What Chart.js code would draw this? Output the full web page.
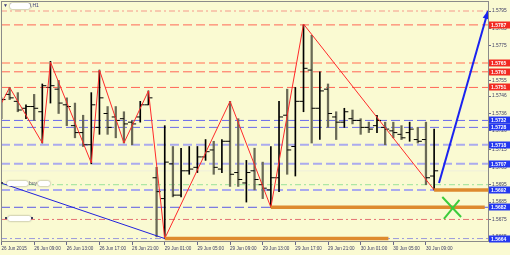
<!DOCTYPE html>
<html>
<head>
<meta charset="utf-8">
<script src="https://cdn.jsdelivr.net/npm/chart.js@4.4.0/dist/chart.umd.min.js"></script>
<style>
  html, body { margin: 0; padding: 0; background: #fafad2; }
  #wrap { width: 510px; height: 255px; }
</style>
</head>
<body>
<div id="wrap"><canvas id="chart" width="510" height="255"></canvas></div>
<script>
// GBPUSD H1 bars, 26 Jun 05:00 .. 30 Jun 10:00
const barOpen = [1.5738, 1.5747, 1.5743, 1.5739, 1.5740, 1.5737, 1.5751, 1.5750, 1.5741, 1.5729,
  1.5725, 1.5718, 1.5728, 1.5736, 1.5734, 1.5733, 1.5731, 1.5734, 1.5741, 1.5699,
  1.5687, 1.5707, 1.5689, 1.5703, 1.5705, 1.5711, 1.5715, 1.5704, 1.5720, 1.5702,
  1.5696, 1.5703, 1.5695, 1.5692, 1.5699, 1.5735, 1.5717, 1.5743, 1.5761, 1.5739,
  1.5750, 1.5734, 1.5731, 1.5733, 1.5732, 1.5728, 1.5729, 1.5728, 1.5726, 1.5724,
  1.5725, 1.5721, 1.5721, 1.5700];
const barHigh = [1.5745, 1.5751, 1.5748, 1.5741, 1.5747, 1.5753, 1.5766, 1.5755, 1.5745, 1.5742,
  1.5735, 1.5748, 1.5761, 1.5740, 1.5740, 1.5737, 1.5732, 1.5743, 1.5749, 1.5705,
  1.5729, 1.5717, 1.5716, 1.5717, 1.5717, 1.5721, 1.5720, 1.5721, 1.5743, 1.5733,
  1.5709, 1.5716, 1.5708, 1.5717, 1.5743, 1.5750, 1.5751, 1.5787, 1.5781, 1.5760,
  1.5753, 1.5737, 1.5739, 1.5738, 1.5733, 1.5731, 1.5735, 1.5731, 1.5731, 1.5729,
  1.5731, 1.5728, 1.5731, 1.5727];
const barLow = [1.5733, 1.5744, 1.5737, 1.5733, 1.5732, 1.5719, 1.5742, 1.5736, 1.5729, 1.5722,
  1.5717, 1.5707, 1.5724, 1.5724, 1.5722, 1.5719, 1.5718, 1.5731, 1.5741, 1.5665,
  1.5664, 1.5688, 1.5688, 1.5701, 1.5702, 1.5709, 1.5701, 1.5702, 1.5694, 1.5694,
  1.5685, 1.5692, 1.5687, 1.5682, 1.5691, 1.5701, 1.5700, 1.5737, 1.5719, 1.5721,
  1.5728, 1.5721, 1.5728, 1.5730, 1.5724, 1.5725, 1.5725, 1.5718, 1.5722, 1.5721,
  1.5720, 1.5719, 1.5695, 1.5692];
const barClose = [1.5744, 1.5745, 1.5738, 1.5740, 1.5739, 1.5752, 1.5752, 1.5742, 1.5740, 1.5725,
  1.5718, 1.5741, 1.5745, 1.5728, 1.5732, 1.5730, 1.5730, 1.5741, 1.5745, 1.5691,
  1.5708, 1.5689, 1.5703, 1.5704, 1.5711, 1.5714, 1.5705, 1.5720, 1.5701, 1.5698,
  1.5702, 1.5698, 1.5693, 1.5699, 1.5734, 1.5715, 1.5743, 1.5762, 1.5739, 1.5749,
  1.5736, 1.5731, 1.5737, 1.5732, 1.5728, 1.5727, 1.5732, 1.5727, 1.5725, 1.5722,
  1.5727, 1.5720, 1.5699, 1.5703];

const tickBars = [0, 4, 8, 12, 16, 20, 24, 28, 32, 36, 40, 44, 48, 52];
const timeLabels = ["26 Jun 2015", "26 Jun 09:00", "26 Jun 13:00", "26 Jun 17:00", "26 Jun 21:00",
  "29 Jun 01:00", "29 Jun 05:00", "29 Jun 09:00", "29 Jun 13:00", "29 Jun 17:00",
  "29 Jun 21:00", "30 Jun 01:00", "30 Jun 05:00", "30 Jun 09:00"];
const priceTicks = [1.5795, 1.5785, 1.5775, 1.5765, 1.5755, 1.5746, 1.5736, 1.5726,
  1.5715, 1.5705, 1.5695, 1.5685, 1.5675, 1.5665];

// zigzag swing points
const zigzagBars = [0, 1, 5, 6, 11, 12, 15, 18, 20, 28, 33, 37, 53];
const zigzagPrices = [1.5742, 1.5751, 1.5719, 1.57656, 1.57075, 1.5761, 1.5719, 1.5749,
  1.5664, 1.5743, 1.5682, 1.57875, 1.5692];

// horizontal levels
const levelPrices = [1.5795, 1.5787, 1.5765, 1.5760, 1.5751, 1.5732, 1.5728, 1.5718,
  1.5707, 1.5703, 1.5695, 1.5692, 1.5682, 1.5675, 1.5664];
const redTags = [1.5787, 1.5765, 1.5760, 1.5751];
const blueTags = [1.5732, 1.5728, 1.5718, 1.5707, 1.5692, 1.5682, 1.5664];

// trend line, forecast arrow, support segments, cross
const trendBars = [-0.06, 20];
const trendPrices = [1.5696, 1.5664];
const arrowBars = [53.6, 59.6];
const arrowPrices = [1.5696, 1.5795];
const supportPrices = [1.5692, 1.5682, 1.5664];
const supportFrom = [53, 33, 20];
const supportTo = [59.6, 59.2, 47.4];
const crossA = [[54.0, 1.56879], [56.3, 1.56764]];
const crossB = [[54.2, 1.56753], [56.1, 1.56862]];

const X_MIN = -0.06, X_MAX = 59.6;

const levelStyle = {
  1.5795: ["#f7b9a2", [6, 3, 2, 3], 1.5],
  1.5787: ["#ff6656", [9, 4], 1],
  1.5765: ["#ffb492", [9, 4], 2],
  1.5760: ["#ff6656", [9, 4], 1],
  1.5751: ["#ff6656", [9, 4], 1],
  1.5732: ["#6868ec", [9, 4], 1],
  1.5728: ["#6868ec", [9, 4], 1],
  1.5718: ["#ababee", [9, 4], 2],
  1.5707: ["#ababee", [9, 4], 2],
  1.5703: ["#efefdc", [], 1],
  1.5695: ["#9ae29a", [6, 3, 2, 3], 1],
  1.5692: ["#ababee", [9, 4], 2],
  1.5682: ["#5a5ae6", [9, 4], 1],
  1.5675: ["#e47272", [6, 3, 2, 3], 1],
  1.5664: ["#9a9adc", [6, 3, 2, 3], 1]
};

const datasets = [];

levelPrices.forEach(p => {
  const s = levelStyle[p];
  datasets.push({
    type: "line",
    data: [{ x: X_MIN, y: p }, { x: X_MAX, y: p }],
    borderColor: s[0],
    borderDash: s[1],
    borderWidth: s[2],
    pointRadius: 0,
    order: 20
  });
});

const bullRange = barOpen.map((o, i) => barClose[i] >= o ? { x: i, y: [barLow[i], barHigh[i]] } : null).filter(Boolean);
const bearRange = barOpen.map((o, i) => barClose[i] < o ? { x: i, y: [barLow[i], barHigh[i]] } : null).filter(Boolean);

datasets.push({
  type: "bar",
  data: bearRange,
  backgroundColor: "#6a6a56",
  barThickness: 1.6,
  grouped: false,
  order: 10
});
datasets.push({
  type: "bar",
  data: bullRange,
  backgroundColor: "#000000",
  barThickness: 1,
  grouped: false,
  order: 9
});
datasets.push({
  type: "scatter",
  data: barOpen.map((v, i) => ({ x: i - 0.25, y: v })),
  pointStyle: "line",
  pointRadius: 2,
  borderColor: "#000000",
  borderWidth: 1,
  order: 8
});
datasets.push({
  type: "scatter",
  data: barClose.map((v, i) => ({ x: i + 0.25, y: v })),
  pointStyle: "line",
  pointRadius: 2,
  borderColor: "#000000",
  borderWidth: 1,
  order: 8
});

datasets.push({
  type: "line",
  data: zigzagBars.map((b, i) => ({ x: b, y: zigzagPrices[i] })),
  borderColor: "#ff2a2a",
  borderWidth: 1,
  pointRadius: 0,
  tension: 0,
  order: 6
});

supportPrices.forEach((p, i) => {
  datasets.push({
    type: "line",
    data: [{ x: supportFrom[i], y: p }, { x: supportTo[i], y: p }],
    borderColor: "#de8a2e",
    borderWidth: 3.5,
    pointRadius: 0,
    order: 5
  });
});

datasets.push({
  type: "line",
  data: trendBars.map((b, i) => ({ x: b, y: trendPrices[i] })),
  borderColor: "#2222dd",
  borderWidth: 1,
  pointRadius: 0,
  order: 4
});
datasets.push({
  type: "line",
  label: "arrow",
  data: arrowBars.map((b, i) => ({ x: b, y: arrowPrices[i] })),
  borderColor: "#1a22f0",
  borderWidth: 2,
  pointRadius: 0,
  clip: false,
  order: 3
});
[crossA, crossB].forEach(seg => {
  datasets.push({
    type: "line",
    data: seg.map(pt => ({ x: pt[0], y: pt[1] })),
    borderColor: "#3ccc3c",
    borderWidth: 2,
    pointRadius: 0,
    order: 2
  });
});

function softBox(ctx, x, y, w, h) {
  ctx.save();
  ctx.shadowColor = "rgba(90,90,90,0.8)";
  ctx.shadowBlur = 2;
  ctx.fillStyle = "#ffffff";
  ctx.beginPath();
  ctx.roundRect(x, y, w, h, 2);
  ctx.fill();
  ctx.restore();
}

const decor = {
  id: "decor",
  beforeDraw(chart) {
    const ctx = chart.ctx;
    ctx.save();
    ctx.fillStyle = "#fafad2";
    ctx.fillRect(0, 0, chart.width, chart.height);
    ctx.restore();
  },
  afterDatasetsDraw(chart) {
    const ctx = chart.ctx;
    const a = chart.chartArea;
    // arrow head
    const meta = chart.getDatasetMeta(chart.data.datasets.findIndex(d => d.label === "arrow"));
    const p0 = meta.data[0], p1 = meta.data[1];
    const ang = Math.atan2(p1.y - p0.y, p1.x - p0.x);
    ctx.save();
    ctx.fillStyle = "#1a22f0";
    ctx.translate(p1.x, p1.y);
    ctx.rotate(ang);
    ctx.beginPath();
    ctx.moveTo(1, 0);
    ctx.lineTo(-8, -3.2);
    ctx.lineTo(-8, 3.2);
    ctx.closePath();
    ctx.fill();
    ctx.restore();
    // frame
    ctx.save();
    ctx.strokeStyle = "#8a8a8a";
    ctx.lineWidth = 1;
    ctx.strokeRect(a.left + 0.5, a.top + 0.5, a.right - a.left, a.bottom - a.top);
    ctx.restore();
  },
  afterDraw(chart) {
    const ctx = chart.ctx;
    const y = chart.scales.y;
    ctx.save();
    ctx.font = "bold 5px 'Liberation Sans', Arial, sans-serif";
    ctx.textBaseline = "middle";
    const tag = (v, bg) => {
      const py = Math.round(y.getPixelForValue(v));
      ctx.fillStyle = bg;
      ctx.fillRect(489, py - 3.5, 21, 7);
      ctx.fillStyle = "#ffffff";
      ctx.fillText(v.toFixed(4), 491, py + 0.5);
    };
    redTags.forEach(v => tag(v, "#f22a22"));
    blueTags.forEach(v => tag(v, "#2438f0"));

    // title
    ctx.fillStyle = "#3a3a7a";
    ctx.font = "5px 'Liberation Sans', Arial, sans-serif";
    ctx.fillText("\u25BC", 3, 5.5);
    ctx.fillText("GBPUSD,H1", 10, 5.5);
    softBox(ctx, 10, 3, 20, 6);

    // object labels on the left
    ctx.fillStyle = "#404060";
    ctx.fillRect(1, 182, 2, 2);
    softBox(ctx, 7, 181, 21, 5);
    ctx.fillStyle = "#505070";
    ctx.fillText("buy", 29, 184);
    softBox(ctx, 38, 181, 12, 5);
    ctx.fillStyle = "#404060";
    ctx.fillRect(5, 217, 2, 2);
    softBox(ctx, 8, 216, 23, 5);
    ctx.fillStyle = "#404060";
    ctx.fillRect(31, 217, 2, 2);
    ctx.restore();
  }
};

new Chart(document.getElementById("chart"), {
  type: "line",
  data: { datasets },
  options: {
    responsive: false,
    devicePixelRatio: 1,
    animation: false,
    events: [],
    layout: { autoPadding: false, padding: { left: 1, top: 1, right: 0, bottom: 0 } },
    plugins: { legend: { display: false }, tooltip: { enabled: false } },
    scales: {
      x: {
        type: "linear",
        offset: false,
        min: X_MIN,
        max: X_MAX,
        afterBuildTicks: s => { s.ticks = tickBars.map(v => ({ value: v })); },
        afterFit: s => { s.height = 14; s.paddingLeft = 0; s.paddingRight = 0; },
        ticks: {
          autoSkip: false,
          maxRotation: 0,
          align: "start",
          padding: 1,
          color: "#3c3c64",
          font: { family: "'Liberation Sans', Arial, sans-serif", size: 4.6 },
          callback: v => timeLabels[tickBars.indexOf(v)]
        },
        grid: { drawOnChartArea: false, drawTicks: true, tickLength: 4, color: "#6a6a8a", offset: false },
        border: { display: true, color: "#8a8a8a" }
      },
      y: {
        type: "linear",
        position: "right",
        min: 1.566259,
        max: 1.580076,
        afterBuildTicks: s => { s.ticks = priceTicks.map(v => ({ value: v })); },
        afterFit: s => { s.width = 22; s.paddingTop = 0; s.paddingBottom = 0; },
        ticks: {
          padding: 1,
          color: "#3c3c64",
          font: { family: "'Liberation Sans', Arial, sans-serif", size: 4.8 },
          callback: v => v.toFixed(4)
        },
        grid: { drawOnChartArea: false, drawTicks: true, tickLength: 3, color: "#6a6a8a" },
        border: { display: true, color: "#8a8a8a" }
      }
    }
  },
  plugins: [decor]
});
</script>
</body>
</html>
